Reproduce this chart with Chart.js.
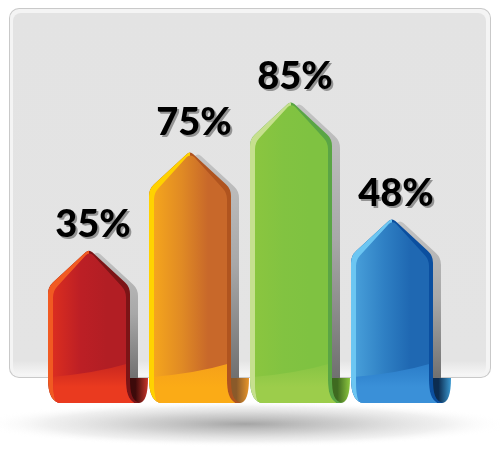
<!DOCTYPE html>
<html><head><meta charset="utf-8">
<script src="https://cdn.jsdelivr.net/npm/chart.js@4"></script>
<style>html,body{margin:0;padding:0;background:#fff}canvas{display:block}</style>
</head><body><canvas id="c" width="500" height="456"></canvas>
<script>
// Printed values
const categories = ['Red', 'Orange', 'Green', 'Blue'];
const printedValues = [35, 75, 85, 48];
// Arrow heights, on a scale where the green arrow is 85
const arrowHeights = [43.3, 70.9, 85, 52.1];
const faceColors = ['#b21e24', '#c8682a', '#7fc241', '#1f68b2'];
const faceLeftColors = ['#e0301f', '#f9aa1c', '#8cc63f', '#4ba3dc'];
const midColors = ['#bc1f25', '#e08a24', '#82c341', '#2f80c4'];
const stripColors = ['#f15a22', '#ffd200', '#c6e08e', '#6cc6f2'];
const edgeColors = ['#7c1416', '#b0541f', '#5aa545', '#0b4f9f'];
const bandColors = ['#ea3a1f', '#fbab16', '#9ccd4b', '#3a90d8'];
const bandTopColors = ['#c8261f', '#f5a01a', '#86c443', '#2a7cc8'];
const curlColors = ['#c8352a', '#e8952a', '#8cc63f', '#3a98d0'];
const curlDarkColors = ['#3d0a0a', '#8a5a2a', '#3e6a20', '#0c2c50'];

function arrowPath(ctx, l, r, top, bottom, shoulder) {
  const c = (l + r) / 2;
  ctx.beginPath();
  ctx.moveTo(l, bottom);
  ctx.arcTo(l, top + shoulder, c, top, 16);
  ctx.arcTo(c, top, r, top + shoulder, 5);
  ctx.arcTo(r, top + shoulder, r, bottom, 16);
  ctx.lineTo(r, bottom);
}
function fullArrow(ctx, l, r, top, base) {
  arrowPath(ctx, l, r, top, base - 24, 38);
  ctx.bezierCurveTo(r, base - 10, r + 2, base - 1, r + 11, base);
  ctx.lineTo(l + 13, base);
  ctx.quadraticCurveTo(l, base - 1, l, base - 24);
  ctx.closePath();
}
const scene = {
  id: 'scene',
  beforeDatasetsDraw(chart) {
    const ctx = chart.ctx;
    ctx.save();
    // ground shadow
    ctx.save();
    ctx.translate(245, 424);
    ctx.scale(1, 23 / 265);
    const g = ctx.createRadialGradient(0, 0, 0, 0, 0, 265);
    g.addColorStop(0, 'rgba(130,130,130,.72)');
    g.addColorStop(.4, 'rgba(170,170,170,.55)');
    g.addColorStop(.75, 'rgba(215,215,215,.38)');
    g.addColorStop(1, 'rgba(255,255,255,0)');
    ctx.fillStyle = g;
    ctx.beginPath(); ctx.arc(0, 0, 265, 0, Math.PI * 2); ctx.fill();
    ctx.restore();
    // panel
    ctx.beginPath(); ctx.roundRect(9, 8, 482, 370, 10);
    ctx.fillStyle = '#c9c9c9'; ctx.fill();
    ctx.beginPath(); ctx.roundRect(10, 9, 480, 368, 9);
    ctx.fillStyle = '#f4f4f4'; ctx.fill();
    ctx.beginPath(); ctx.roundRect(13, 13, 473, 362, 8);
    const p = ctx.createLinearGradient(0, 13, 0, 375);
    p.addColorStop(0, '#e3e3e3'); p.addColorStop(.96, '#e4e4e4'); p.addColorStop(.985, '#efefef'); p.addColorStop(1, '#f6f6f6');
    ctx.fillStyle = p; ctx.fill();
    ctx.restore();
  },
  beforeDatasetDraw(chart, args) {
    const ctx = chart.ctx, meta = chart.getDatasetMeta(args.index), panelBottom = 378;
    meta.data.forEach((bar, i) => {
      const hw = bar.width / 2, l = bar.x - hw, r = bar.x + hw, top = bar.y, base = bar.base;
      ctx.save();
      // cast shadow on the panel
      ctx.save();
      ctx.beginPath(); ctx.rect(0, 0, 500, panelBottom); ctx.clip();
      arrowPath(ctx, l + 8, r + 8, top + 2, base, 38); ctx.closePath();
      const sg = ctx.createLinearGradient(0, top, 0, panelBottom);
      sg.addColorStop(0, '#c4c4c4'); sg.addColorStop(.5, '#a8a8a8'); sg.addColorStop(1, '#707070');
      ctx.fillStyle = sg; ctx.fill();
      ctx.restore();
      // curl below the panel
      ctx.beginPath();
      ctx.moveTo(r - 3, panelBottom);
      ctx.lineTo(r + 18, panelBottom);
      ctx.bezierCurveTo(r + 18, base - 9, r + 15, base, r + 9, base);
      ctx.lineTo(r - 3, base);
      ctx.closePath();
      const cg = ctx.createLinearGradient(r, 0, r + 18, 0);
      cg.addColorStop(0, curlDarkColors[i]); cg.addColorStop(.3, curlDarkColors[i]); cg.addColorStop(1, curlColors[i]);
      ctx.fillStyle = cg; ctx.fill();
      // body, clipped for everything inside it
      fullArrow(ctx, l, r, top, base);
      ctx.fillStyle = edgeColors[i]; ctx.fill();
      ctx.save();
      fullArrow(ctx, l, r, top, base); ctx.clip();
      ctx.fillStyle = stripColors[i];
      ctx.fillRect(l, top - 2, hw, base - top + 4);
      // face
      arrowPath(ctx, l + 5, r - 4, top + 2, base - 24, 40);
      ctx.bezierCurveTo(r - 4, base - 8, r - 1, base - 2, r + 8, base + 2);
      ctx.lineTo(l + 11, base + 2);
      ctx.quadraticCurveTo(l + 5, base, l + 5, base - 24);
      ctx.closePath();
      const fg = ctx.createLinearGradient(l, 0, r, 0);
      fg.addColorStop(0, faceLeftColors[i]);
      fg.addColorStop(.4, midColors[i]);
      fg.addColorStop(.72, faceColors[i]);
      fg.addColorStop(1, faceColors[i]);
      ctx.fillStyle = fg; ctx.fill();
      ctx.clip();
      // lighter lower band with slanted top
      const bandTop = panelBottom - 1;
      ctx.beginPath();
      ctx.moveTo(l, bandTop);
      ctx.quadraticCurveTo(l + 45, bandTop - 3, r, bandTop - 14);
      ctx.lineTo(r + 10, base + 2);
      ctx.lineTo(l, base + 2);
      ctx.closePath();
      const bg = ctx.createLinearGradient(0, bandTop - 14, 0, base);
      bg.addColorStop(0, bandTopColors[i]); bg.addColorStop(.6, bandColors[i]); bg.addColorStop(1, bandColors[i]);
      ctx.fillStyle = bg; ctx.fill();
      ctx.restore();
      ctx.restore();
    });
    return false;
  },
  afterDatasetsDraw(chart) {
    const ctx = chart.ctx, meta = chart.getDatasetMeta(0);
    ctx.save();
    ctx.font = '900 38px Lato';
    ctx.textAlign = 'center';
    ctx.textBaseline = 'alphabetic';
    meta.data.forEach((bar, i) => {
      const t = printedValues[i] + '%', x = bar.x + 4, y = bar.y - (i === 1 ? 16 : 12);
      ctx.fillStyle = 'rgba(120,120,120,.75)';
      ctx.fillText(t, x + 2, y + 2);
      ctx.fillStyle = '#000';
      ctx.fillText(t, x, y);
    });
    ctx.restore();
  }
};
new Chart(document.getElementById('c'), {
  type: 'bar',
  data: {
    labels: categories,
    datasets: [{ data: arrowHeights, backgroundColor: faceColors, barPercentage: 82 / 101, categoryPercentage: 1 }]
  },
  options: {
    responsive: false,
    animation: false,
    devicePixelRatio: 1,
    layout: { padding: { left: 38.5, right: 57.5, top: 0, bottom: 53 } },
    plugins: { legend: { display: false }, tooltip: { enabled: false } },
    scales: {
      x: { display: false },
      y: { display: false, min: 0, max: 113.4 }
    }
  },
  plugins: [scene]
});
</script></body></html>
